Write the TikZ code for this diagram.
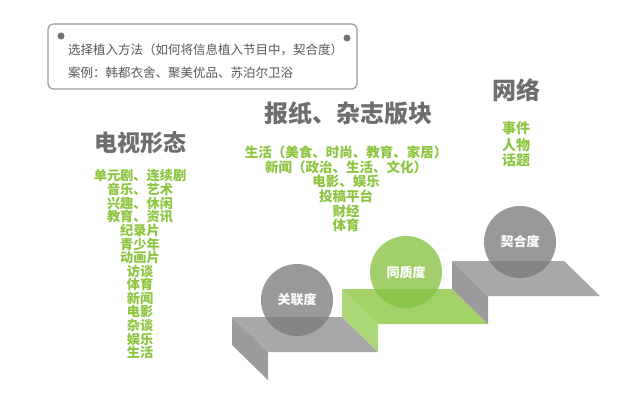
\documentclass[tikz,border=0pt]{standalone}
\usepackage{fontspec}
\setmainfont{Noto Sans CJK SC}
\definecolor{titlegray}{HTML}{6E6E70}
\definecolor{notegray}{HTML}{58585A}
\definecolor{boxgray}{HTML}{9A9A9C}
\definecolor{leafgreen}{HTML}{8DC540}
\definecolor{risergray}{HTML}{9B9B9D}
\definecolor{treadgray}{HTML}{A8A8AA}
\definecolor{risergreen}{HTML}{ADD877}
\definecolor{treadgreen}{HTML}{A3D268}
\definecolor{bubblegray}{HTML}{7C7C7E}
\definecolor{bubblegreen}{HTML}{86C242}

\begin{document}
\begin{tikzpicture}[x=1pt, y=-1pt,
  title/.style={text=titlegray, inner sep=0pt, font=\fontsize{23}{23}\selectfont\bfseries},
  item/.style={text=leafgreen, inner sep=0pt, font=\fontsize{13.5}{13.5}\selectfont\bfseries},
  noteline/.style={text=notegray, inner sep=0pt, anchor=west, font=\fontsize{12.5}{12.5}\selectfont},
  bubble/.style={circle, minimum size=72pt, inner sep=0pt, fill opacity=0.78, text opacity=1,
    text=white, font=\fontsize{13}{13}\selectfont\bfseries}]
\useasboundingbox (0,0) rectangle (640,400);

% Note box
\draw[rounded corners=5pt, draw=boxgray, line width=1.2pt, fill=white] (48,24) rectangle (357,89);
\fill[black!55] (61,36) circle (3.5) (347,38) circle (3.5);
\node[noteline] (method) at (68,50) {选择植入方法（如何将信息植入节目中，契合度）};
\node[noteline] (cases) at (68,73) {案例：韩都衣舍、聚美优品、苏泊尔卫浴};

% Titles
\node[title] (tv) at (140,143) {电视形态};
\node[title, font=\fontsize{24}{24}\selectfont\bfseries] (press) at (348,113) {报纸、杂志版块};
\node[title, font=\fontsize{24}{24}\selectfont\bfseries] (web) at (516,90) {网络};

% TV formats
\foreach \txt [count=\i] in {单元剧、连续剧, 音乐、艺术, 兴趣、休闲, 教育、资讯,
    纪录片, 青少年, 动画片, 访谈, 体育, 新闻, 电影, 杂谈, 娱乐, 生活}
  \node[item, font=\fontsize{13.2}{13.2}\selectfont\bfseries] (tv\i) at (140,{162.4+13.6*\i}) {\txt};

% Press sections
\foreach \txt/\y [count=\i] in {生活（美食、时尚、教育、家居）/152, 新闻（政治、生活、文化）/167,
    电影、娱乐/181, 投稿平台/196, 财经/211, 体育/225}
  \node[item] (press\i) at (346,\y) {\txt};

% Web topics
\foreach \txt/\y [count=\i] in {事件/128, 人物/145, 话题/160}
  \node[item, font=\fontsize{14}{14}\selectfont\bfseries] (web\i) at (516,\y) {\txt};

% Stairs
\foreach \x/\y/\w/\c in {232/317/110/gray, 342/289/110/green, 452/261/112/gray} {
  \fill[riser\c] (\x,\y) -- ++(36,35) -- ++(0,28) -- ++(-36,-35) -- cycle;
  \fill[tread\c] (\x,\y) -- ++(\w,0) -- ++(36,35) -- ++(-\w,0) -- cycle;
}

% Degrees
\node[bubble, fill=bubblegray] (relevance) at (297,300) {关联度};
\node[bubble, fill=bubblegreen] (homogeneity) at (406,272) {同质度};
\node[bubble, fill=bubblegray] (fit) at (520,242) {契合度};
\end{tikzpicture}
\end{document}
